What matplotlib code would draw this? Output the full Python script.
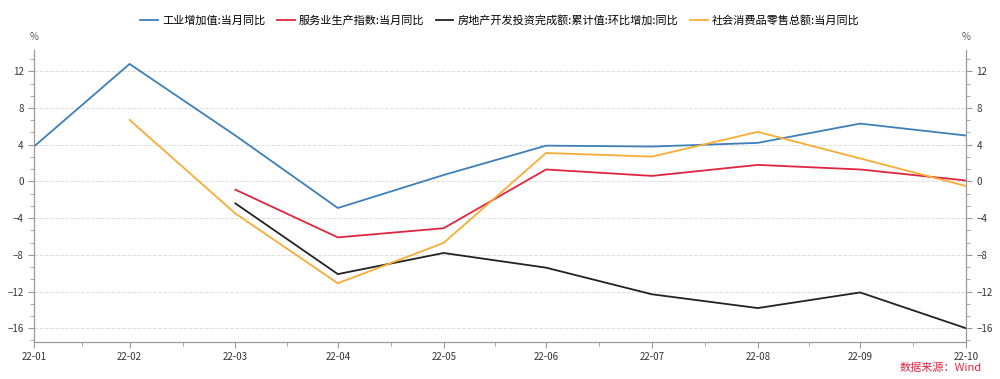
import pandas as pd
import matplotlib.pyplot as plt
import matplotlib.dates as mdates
from matplotlib.ticker import MultipleLocator, FixedLocator

plt.rcParams['font.family'] = ['Noto Sans CJK SC', 'DejaVu Sans']

# month-end dates, labelled yy-mm
months = ['2022-01', '2022-02', '2022-03', '2022-04', '2022-05',
          '2022-06', '2022-07', '2022-08', '2022-09', '2022-10']
dates = pd.to_datetime(months) + pd.offsets.MonthEnd(0)

industry = [3.8, 12.8, 5.0, -2.9, 0.7, 3.9, 3.8, 4.2, 6.3, 5.0]
services = [None, None, -0.9, -6.1, -5.1, 1.3, 0.6, 1.8, 1.3, 0.1]
realestate = [None, None, -2.4, -10.1, -7.8, -9.4, -12.3, -13.8, -12.1, -16.0]
retail = [None, 6.7, -3.5, -11.1, -6.7, 3.1, 2.7, 5.4, 2.5, -0.5]

names = ['工业增加值:当月同比', '服务业生产指数:当月同比',
         '房地产开发投资完成额:累计值:环比增加:同比', '社会消费品零售总额:当月同比']
colors = ['#3d7fb8', '#e0253f', '#222222', '#f7ac35']

df = pd.DataFrame({names[0]: industry, names[1]: services,
                   names[2]: realestate, names[3]: retail}, index=dates, dtype=float)

fig = plt.figure(figsize=(10, 3.79), dpi=100)
ax = fig.add_axes([0.034, 0.0976, 0.932, 0.77])

for name, c in zip(names, colors):
    ax.plot(df.index, df[name], color=c, lw=1.3, label=name)

ax.set_xlim(dates[0], dates[-1])
ax.set_ylim(-17.5, 14.3)

# ticks at each month end, minor ticks halfway between
xnum = mdates.date2num(dates)
ax.xaxis.set_major_locator(FixedLocator(xnum))
ax.xaxis.set_major_formatter(mdates.DateFormatter('%y-%m'))
ax.xaxis.set_minor_locator(FixedLocator((xnum[:-1] + xnum[1:]) / 2))

ax.yaxis.set_major_locator(MultipleLocator(4))
ax.yaxis.set_minor_locator(MultipleLocator(4 / 3))
ax.grid(axis='y', which='major', color='#dddddd', linestyle='--', lw=0.7)

ax2 = ax.twinx()
ax2.set_ylim(ax.get_ylim())
ax2.yaxis.set_major_locator(MultipleLocator(4))
ax2.yaxis.set_minor_locator(MultipleLocator(4 / 3))

for a in (ax, ax2):
    for s in a.spines.values():
        s.set_color('#999999')
    a.spines['top'].set_visible(False)
    a.tick_params(which='both', colors='#999999', labelcolor='#333333', labelsize=7)
    a.tick_params(which='major', length=4)
    a.tick_params(which='minor', length=3)

fig.text(0.034, 0.895, '%', fontsize=7, color='#555555', ha='center')
fig.text(0.966, 0.895, '%', fontsize=7, color='#555555', ha='center')

handles, labels = ax.get_legend_handles_labels()
fig.legend(handles, labels, loc='center', bbox_to_anchor=(0.5, 0.947), ncol=4, frameon=False,
           fontsize=8, handlelength=1.6, handletextpad=0.4, columnspacing=1.0)

fig.text(0.982, 0.02, '数据来源：Wind', color='#e0253f', fontsize=8, ha='right')

fig.savefig('out.png', dpi=100)
